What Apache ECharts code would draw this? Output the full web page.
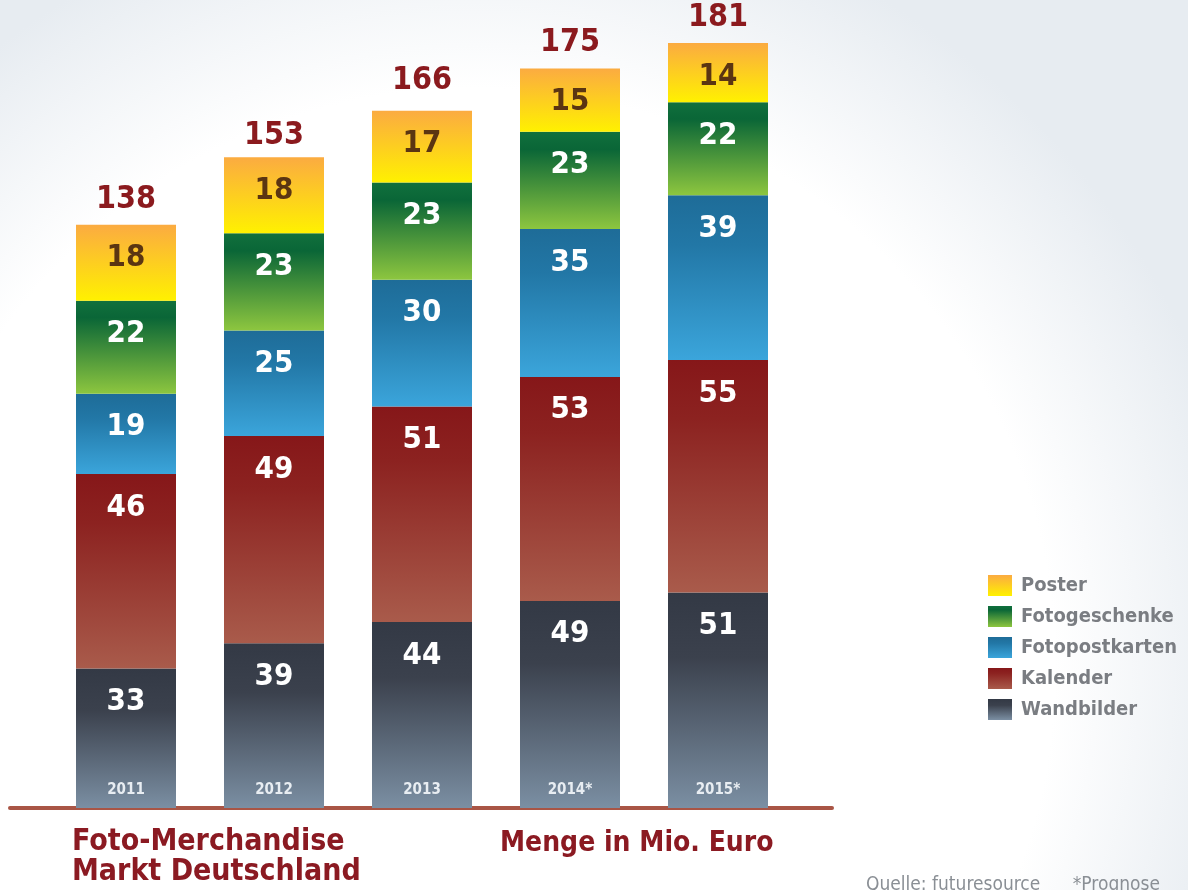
<!DOCTYPE html>
<html>
<head>
<meta charset="utf-8">
<script src="https://cdn.jsdelivr.net/npm/echarts@6/dist/echarts.min.js"></script>
<style>
  html, body { margin: 0; padding: 0; }
  #chart { width: 1188px; height: 890px; }
</style>
</head>
<body>
<div id="chart"></div>
<script>
// Daten (Mio. Euro)
const years = ['2011', '2012', '2013', '2014*', '2015*']
const wandbilder = [33, 39, 44, 49, 51]
const kalender = [46, 49, 51, 53, 55]
const fotopostkarten = [19, 25, 30, 35, 39]
const fotogeschenke = [22, 23, 23, 23, 22]
const poster = [18, 18, 17, 15, 14]
const totals = [138, 153, 166, 175, 181]

const FONT = "'DejaVu Sans Condensed', 'DejaVu Sans', sans-serif"

// vertikaler Verlauf je Segment
const grad = (stops) => ({
  type: 'linear', x: 0, y: 0, x2: 0, y2: 1,
  colorStops: stops.map(s => ({ offset: s[0], color: s[1] }))
})

const colors = {
  Wandbilder: grad([[0, '#333945'], [0.3, '#3b414d'], [1, '#7b8fa3']]),
  Kalender: grad([[0, '#861719'], [0.25, '#8c2220'], [1, '#a95b4b']]),
  Fotopostkarten: grad([[0, '#1e6c98'], [0.3, '#2277a6'], [1, '#3ba5db']]),
  Fotogeschenke: grad([[0, '#11703d'], [0.18, '#0a6637'], [1, '#8dc63f']]),
  Poster: grad([[0, '#fbab41'], [1, '#fff100']])
}

const segment = (name, data, labelColor) => ({
  name,
  type: 'bar',
  stack: 'total',
  barWidth: 100,
  data,
  itemStyle: { color: colors[name] },
  label: {
    show: true,
    position: 'insideTop',
    distance: 18,
    color: labelColor || '#ffffff',
    fontFamily: FONT,
    fontWeight: 'bold',
    fontSize: 31
  },
  emphasis: { disabled: true }
})

const chart = echarts.init(document.getElementById('chart'))

const option = {
  backgroundColor: {
    type: 'radial', x: 0.40, y: 0.75, r: 0.88,
    colorStops: [
      { offset: 0, color: '#ffffff' },
      { offset: 0.74, color: '#ffffff' },
      { offset: 1, color: '#e7ecf1' }
    ]
  },
  animation: false,
  title: [
    {
      text: 'Foto-Merchandise\nMarkt Deutschland',
      left: 72, top: 827, padding: 0,
      textStyle: { color: '#8b1a22', fontFamily: FONT, fontWeight: 'bold', fontSize: 30, lineHeight: 30 }
    },
    {
      text: 'Menge in Mio. Euro',
      left: 500, top: 827, padding: 0,
      textStyle: { color: '#8b1a22', fontFamily: FONT, fontWeight: 'bold', fontSize: 28, lineHeight: 34 }
    },
    {
      text: 'Quelle: futuresource      *Prognose',
      left: 866, top: 876, padding: 0,
      textStyle: { color: '#8a8f95', fontFamily: FONT, fontWeight: 'normal', fontSize: 19 }
    }
  ],
  legend: {
    orient: 'vertical',
    left: 988, top: 572, padding: 0,
    itemWidth: 24, itemHeight: 21, itemGap: 4,
    icon: 'rect',
    data: ['Poster', 'Fotogeschenke', 'Fotopostkarten', 'Kalender', 'Wandbilder'],
    textStyle: { color: '#7a7d82', fontFamily: FONT, fontWeight: 'bold', fontSize: 20, lineHeight: 20, padding: [7, 0, 0, 4] },
    selectedMode: false
  },
  grid: [
    { left: 52, right: 396, top: 5, bottom: 82 },
    { left: 10, right: 356, top: 5, bottom: 82 }
  ],
  xAxis: [
    {
      type: 'category',
      gridIndex: 0,
      data: years,
      z: 10,
      axisLine: { show: false },
      axisTick: { show: false },
      axisLabel: {
        inside: true,
        margin: 10,
        color: '#e8edf2',
        fontFamily: FONT,
        fontWeight: 'bold',
        fontSize: 15
      }
    },
    {
      type: 'category',
      gridIndex: 1,
      data: [],
      axisLine: { show: true, lineStyle: { color: '#a95545', width: 4, cap: 'round' } },
      axisTick: { show: false },
      axisLabel: { show: false }
    }
  ],
  yAxis: [
    { type: 'value', gridIndex: 0, min: 0, max: 190, show: false },
    { type: 'value', gridIndex: 1, min: 0, max: 190, show: false }
  ],
  series: [
    segment('Wandbilder', wandbilder),
    segment('Kalender', kalender),
    segment('Fotopostkarten', fotopostkarten),
    segment('Fotogeschenke', fotogeschenke),
    segment('Poster', poster, '#5b3512'),
    {
      name: 'Summe',
      type: 'scatter',
      data: totals,
      symbolSize: 1,
      itemStyle: { color: 'transparent', opacity: 1 },
      silent: true,
      label: {
        show: true,
        position: 'top',
        distance: 9,
        color: '#8b1a1e',
        fontFamily: FONT,
        fontWeight: 'bold',
        fontSize: 32
      }
    }
  ],
  graphic: [
    {
      type: 'text', left: 866, top: 782,
      style: { text: '2011', fill: 'rgba(255,255,255,0.85)', font: 'bold 15px ' + FONT }
    }
  ]
}

chart.setOption(option)
</script>
</body>
</html>
